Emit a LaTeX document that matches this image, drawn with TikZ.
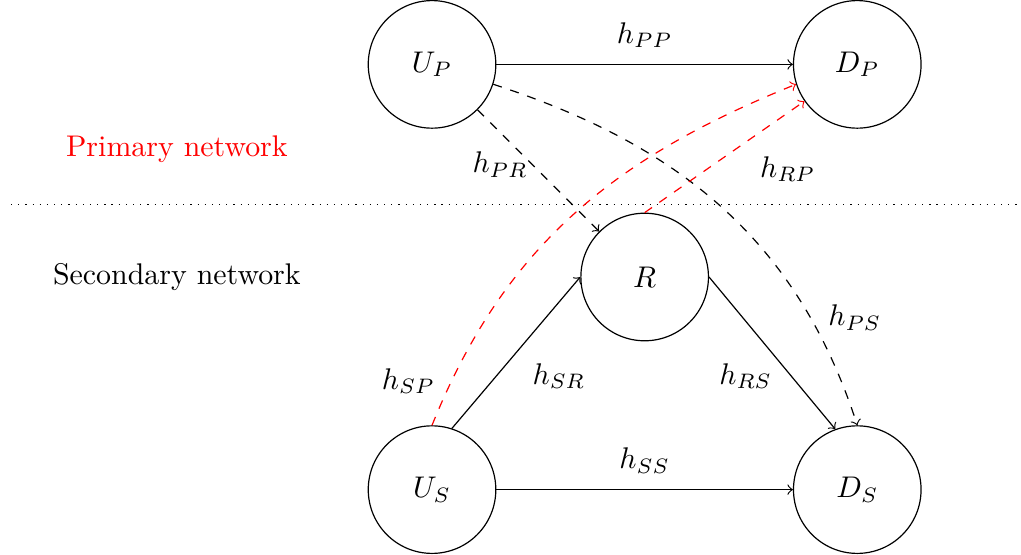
\documentclass[tikz,border=0pt]{standalone}
\usepackage{amsmath}
\usepackage{tikz}

\begin{document}
\begin{tikzpicture}[user/.style={circle, draw, minimum size=1.5cm}]
            \useasboundingbox (-5.08,-0.757) rectangle (6.925,5.757);

            \node[user] (up) at (0,5) {\(U_P\)};
            \node[user] (dp) at (5,5) {\(D_P\)};
            \node[user] (r) at (2.5,2.5) {\(R\)};
            \node[user] (us) at (0,0) {\(U_S\)};
            \node[user] (ds) at (5,0) {\(D_S\)};

            \node[red] (prim) at (-3,4) {Primary network};
            \node (sec) at (-3,2.5) {Secondary network};

            \coordinate (lft) at (-4.95,3.35);
            \coordinate (rgt) at (6.9,3.35);
            \draw[dotted] (lft) -- (rgt);

            \draw[->] (up) -- (dp) node[above=2pt, midway] {\(h_{PP}\)};
            \draw[->] (us) -- (ds) node[above=2pt, midway] {\(h_{SS}\)};
            \draw[->] (us.72) -- (r.west) node[below right, midway, xshift=2pt] {\(h_{SR}\)};
            \draw[->] (r.east) -- (ds.110) node[below left, midway, xshift=3.5pt] {\(h_{RS}\)};
            \draw[->, dashed] (up) -- (r) node[left, midway, yshift=2pt] {\(h_{PR}\)};
            \draw[->, dashed] (up.-18) to[out=-18, in=108] node[right, pos=0.785, xshift=2.5pt] {\(h_{PS}\)} (ds.north);
            \draw[->, dashed, red] (r.north) -- (dp) node[below right, pos=0.6, xshift=3pt, black] {\(h_{RP}\)};
            \draw[->, dashed, red] (us.north) to[out=68, in=-158] node[left, pos=0.085, xshift=-2pt, black] {\(h_{SP}\)} (dp.198);
        \end{tikzpicture}
\end{document}
